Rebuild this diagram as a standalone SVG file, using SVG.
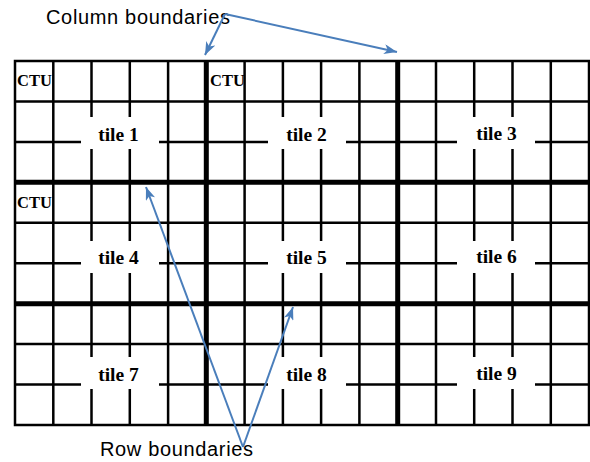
<svg xmlns="http://www.w3.org/2000/svg" width="590" height="462" viewBox="0 0 590 462">
  <style>
    .thin { stroke: #000; stroke-width: 2.5; fill: none; }
    .thick { stroke: #000; stroke-width: 5; fill: none; }
    .gap { fill: #fff; stroke: none; }
    .tile { font-family: "Liberation Serif", "Times New Roman", serif; font-weight: bold; font-size: 19.5px; text-anchor: middle; fill: #000; }
    .ctu { font-family: "Liberation Serif", "Times New Roman", serif; font-weight: bold; font-size: 16.5px; fill: #000; }
    .caption { font-family: "Liberation Sans", Arial, sans-serif; font-size: 20px; fill: #000; }
    .arrow { stroke: #4A7EBB; stroke-width: 2; fill: none; marker-end: url(#head); }
  </style>
  <defs>
    <marker id="head" markerUnits="userSpaceOnUse" markerWidth="14" markerHeight="10" refX="13" refY="5" orient="auto">
      <path d="M0,0 L13,5 L0,10 L3.5,5 Z" fill="#4A7EBB"/>
    </marker>
  </defs>

  <rect width="590" height="462" fill="#fff"/>

  <!-- CTU grid: 15 columns x 9 rows -->
  <g id="grid">
    <g class="thin">
      <path d="M53.3,61V425 M91.5,61V425 M129.8,61V425 M168.1,61V425 M244.6,61V425 M282.9,61V425 M321.1,61V425 M359.4,61V425 M436,61V425 M474.2,61V425 M512.5,61V425 M550.8,61V425"/>
      <path d="M15,101.4H589 M15,141.9H589 M15,222.8H589 M15,263.2H589 M15,344.1H589 M15,384.6H589"/>
      <rect x="15" y="61" width="574" height="364"/>
    </g>
    <!-- tile boundaries -->
    <g class="thick">
      <path d="M206.3,61V425 M397.7,61V425"/>
      <path d="M15,182.3H589 M15,303.7H589"/>
    </g>
  </g>

  <!-- tile labels -->
  <g id="tile1"><rect class="gap" x="81" y="117" width="78" height="32"/><text class="tile" x="118.5" y="141">tile 1</text></g>
  <g id="tile2"><rect class="gap" x="268" y="117" width="78" height="32"/><text class="tile" x="306.5" y="141">tile 2</text></g>
  <g id="tile3"><rect class="gap" x="457" y="117" width="78" height="32"/><text class="tile" x="496.5" y="140">tile 3</text></g>
  <g id="tile4"><rect class="gap" x="81" y="241" width="78" height="32"/><text class="tile" x="118.5" y="264">tile 4</text></g>
  <g id="tile5"><rect class="gap" x="268" y="241" width="78" height="32"/><text class="tile" x="306.5" y="264">tile 5</text></g>
  <g id="tile6"><rect class="gap" x="457" y="241" width="78" height="32"/><text class="tile" x="496.5" y="263">tile 6</text></g>
  <g id="tile7"><rect class="gap" x="81" y="357" width="78" height="32"/><text class="tile" x="118.5" y="381">tile 7</text></g>
  <g id="tile8"><rect class="gap" x="268" y="357" width="78" height="32"/><text class="tile" x="306.5" y="381">tile 8</text></g>
  <g id="tile9"><rect class="gap" x="457" y="357" width="78" height="32"/><text class="tile" x="496.5" y="380">tile 9</text></g>

  <!-- first CTU of tiles -->
  <g id="ctu-labels">
    <text class="ctu" x="17" y="86">CTU</text>
    <text class="ctu" x="210" y="86">CTU</text>
    <text class="ctu" x="17" y="208">CTU</text>
  </g>

  <!-- captions -->
  <g id="col-caption"><text class="caption" x="46" y="24" textLength="184" lengthAdjust="spacing">Column boundaries</text></g>
  <g id="row-caption"><text class="caption" x="100" y="456" textLength="153" lengthAdjust="spacing">Row boundaries</text></g>

  <!-- connectors -->
  <g id="connectors">
    <path class="arrow" d="M225,14 L205,55"/>
    <path class="arrow" d="M225,14 L397,52"/>
    <path class="arrow" d="M243,447 L146,187"/>
    <path class="arrow" d="M243,447 L293,307"/>
  </g>
</svg>
